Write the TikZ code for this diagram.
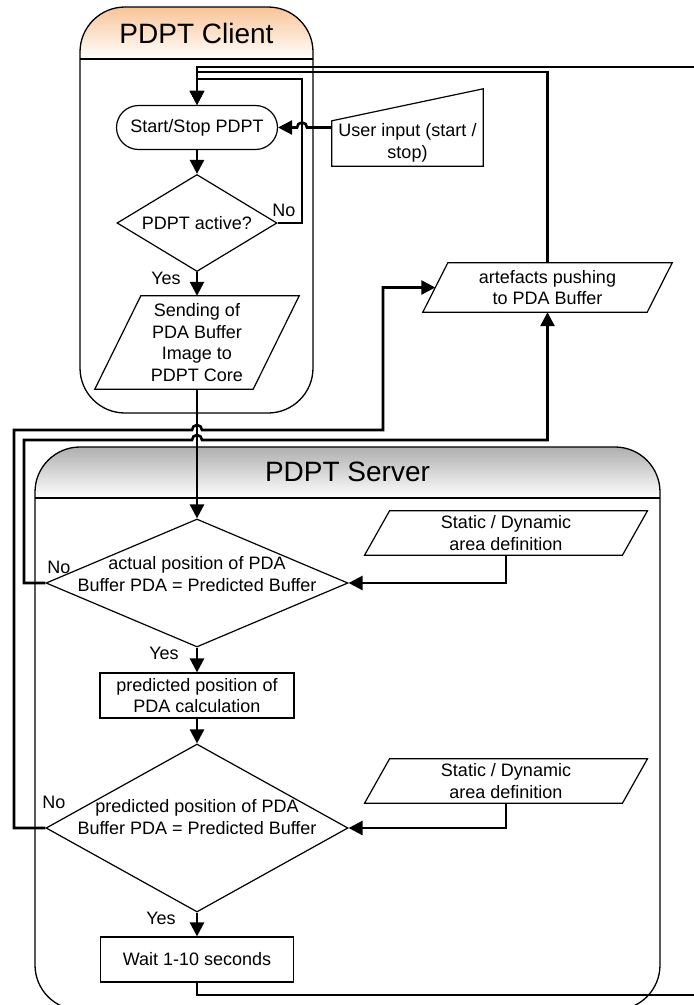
\documentclass[tikz,border=0pt]{standalone}
\usepackage{fontspec}
\setmainfont{Liberation Sans}
\usetikzlibrary{shapes.geometric,arrows.meta,calc}
\definecolor{clientor}{RGB}{248,196,152}
\definecolor{servergr}{RGB}{175,175,175}
\begin{document}
\begin{tikzpicture}[x=1pt,y=-1pt,
  conn/.style={line width=2.6pt},
  arr/.style={conn,-{Triangle[length=14pt,width=14pt]}},
  shp/.style={draw,line width=1.2pt,fill=white},
  txt/.style={font=\fontsize{18}{21.6}\selectfont,align=center,inner sep=0pt},
  lbl/.style={font=\fontsize{18}{21.6}\selectfont,inner sep=0pt},
  ttl/.style={font=\fontsize{28}{32}\selectfont,inner sep=0pt},
  lane/.style={draw,line width=1.3pt,rounded corners=45pt},
  pbox/.style={txt,draw=none,inner sep=0pt},
  outline/.style={line width=1.2pt,line join=miter}
]
\useasboundingbox (0,0) rectangle (694,1005);

% ---------- lanes ----------
\begin{scope}
  \clip[rounded corners=45pt] (80,7) rectangle (313,413);
  \shade[top color=clientor,bottom color=white] (80,7) rectangle (313,59);
\end{scope}
\draw[lane] (80,7) rectangle (313,413);
\draw[line width=1.3pt] (80,59) -- (313,59);
\node[ttl] (ctitle) at (196.5,33) {PDPT Client};

\begin{scope}
  \clip[rounded corners=45pt] (35,447) rectangle (660,1010);
  \shade[top color=servergr,bottom color=white] (35,447) rectangle (660,498);
\end{scope}
\draw[lane] (35,447) rectangle (660,1010);
\draw[line width=1.3pt] (35,498) -- (660,498);
\node[ttl] (stitle) at (347.5,472) {PDPT Server};

% ---------- client nodes ----------
\node[shp,txt,rounded corners=22pt,minimum width=161pt,minimum height=44pt] (ss) at (197,127.5) {Start/Stop PDPT};
\node[shp,diamond,minimum width=160pt,minimum height=97pt,inner sep=0pt] (act) at (197,223) {};
\node[txt] (actt) at (197,223) {PDPT active?};

\node[pbox,minimum width=158pt,minimum height=93pt] (send) at (197,342.5) {Sending of\\PDA Buffer\\Image to\\PDPT Core};
\draw[outline] ([xshift=23pt]send.north west) -- ([xshift=23pt]send.north east)
  -- ([xshift=-23pt]send.south east) -- ([xshift=-23pt]send.south west) -- cycle;

\node[pbox,minimum width=151pt,minimum height=77pt] (ui) at (407.5,127.5) {};
\draw[outline] (ui.south west) -- ([yshift=-32pt]ui.north west) -- (ui.north east) -- (ui.south east) -- cycle;
\node[txt] (uit) at (407.5,143) {User input (start /\\stop)};

\node[pbox,minimum width=224pt,minimum height=49pt] (art) at (547.5,287.5) {artefacts pushing\\to PDA Buffer};
\draw[outline] ([xshift=12.5pt]art.north west) -- ([xshift=12.5pt]art.north east)
  -- ([xshift=-12.5pt]art.south east) -- ([xshift=-12.5pt]art.south west) -- cycle;

% ---------- server nodes ----------
\node[shp,diamond,minimum width=302pt,minimum height=128pt,inner sep=0pt] (d1) at (197,583) {};
\node[txt] (d1t) at (197,574) {actual position of PDA\\Buffer PDA = Predicted Buffer};

\node[pbox,minimum width=257.5pt,minimum height=44pt] (s1) at (506,533) {Static / Dynamic\\area definition};
\draw[outline] ([xshift=12.5pt]s1.north west) -- ([xshift=12.5pt]s1.north east)
  -- ([xshift=-12.5pt]s1.south east) -- ([xshift=-12.5pt]s1.south west) -- cycle;

\node[shp,txt,minimum width=194pt,minimum height=45pt] (calc) at (197,695.5) {predicted position of\\PDA calculation};

\node[shp,diamond,minimum width=302pt,minimum height=168pt,inner sep=0pt] (d2) at (197,828) {};
\node[txt] (d2t) at (197,817) {predicted position of PDA\\Buffer PDA = Predicted Buffer};

\node[pbox,minimum width=257.5pt,minimum height=44pt] (s2) at (506,781) {Static / Dynamic\\area definition};
\draw[outline] ([xshift=12.5pt]s2.north west) -- ([xshift=12.5pt]s2.north east)
  -- ([xshift=-12.5pt]s2.south east) -- ([xshift=-12.5pt]s2.south west) -- cycle;

\node[shp,txt,minimum width=193pt,minimum height=45pt] (wait) at (197,959.5) {Wait 1-10 seconds};

% ---------- labels ----------
\node[lbl] (no1) at (284,210) {No};
\node[lbl] (yes1) at (166,278) {Yes};
\node[lbl] (no2) at (59,567) {No};
\node[lbl] (yes2) at (164,653) {Yes};
\node[lbl] (no3) at (54,802) {No};
\node[lbl] (yes3) at (161,918) {Yes};

% ---------- connectors ----------
\draw[arr] (ss.south) -- (act.north);
\draw[arr] (act.south) -- (send.north);
\draw[arr] (act.east) -- (302,223) -- (302,79) -| (ss.north);
\draw[arr] (ui.west) -- (307,127.5) arc[start angle=0,end angle=-180,radius=5] -- (ss.east);
\draw[arr] (art.north) -- (547.5,72) -| (ss.north);
\draw[arr] (wait.south) |- (720,995) -- (720,67) -| (ss.north);
\draw[arr] (send.south) -- (d1.north);
\draw[arr] (d1.west) -| (24,440) -- (192,440) arc[start angle=180,end angle=360,radius=5] -| (art.south);
\draw[arr] (d2.west) -| (14,430) -- (192,430) arc[start angle=180,end angle=360,radius=5] -- (383,430) |- (art.west);
\draw[arr] (s1.south) |- (d1.east);
\draw[arr] (s2.south) |- (d2.east);
\draw[arr] (d1.south) -- (calc.north);
\draw[arr] (calc.south) -- (d2.north);
\draw[arr] (d2.south) -- (wait.north);
\end{tikzpicture}
\end{document}
